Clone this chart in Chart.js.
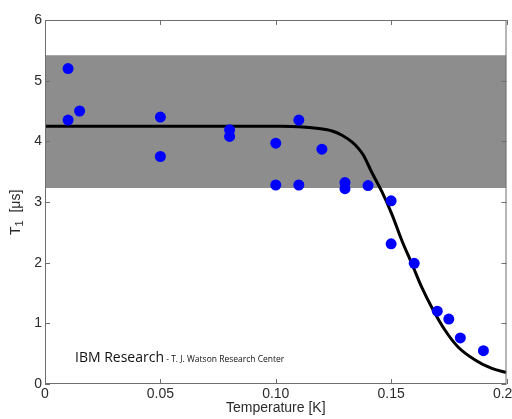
<!DOCTYPE html>
<html>
<head>
<meta charset="utf-8">
<script src="https://cdn.jsdelivr.net/npm/chart.js@4/dist/chart.umd.min.js"></script>
<style>
  html, body { margin: 0; padding: 0; background: #fff; }
  #wrap { width: 512px; height: 419px; }
</style>
</head>
<body>
<div id="wrap"><canvas id="t1-chart" width="512" height="419"></canvas></div>
<script>
// ── Data ─────────────────────────────────────────────────────
const measTemp = [0.010, 0.010, 0.015, 0.050, 0.050, 0.080, 0.080, 0.100, 0.100, 0.110,
                  0.110, 0.120, 0.130, 0.130, 0.140, 0.150, 0.150, 0.160, 0.170, 0.175,
                  0.180, 0.190];
const measT1   = [5.20, 4.35, 4.50, 4.40, 3.75, 4.19, 4.08, 3.97, 3.28, 4.35,
                  3.28, 3.87, 3.32, 3.22, 3.27, 3.02, 2.31, 1.99, 1.20, 1.07,
                  0.76, 0.55];

const fitTemp = [0, 0.05, 0.09, 0.100, 0.110, 0.1186, 0.1244, 0.1287, 0.1330, 0.1359,
                 0.1380, 0.1416, 0.146, 0.1503, 0.1546, 0.1589, 0.1632, 0.1682, 0.1733, 0.179,
                 0.1862, 0.1934, 0.2];
const fitT1   = [4.25, 4.25, 4.25, 4.248, 4.24, 4.21, 4.17, 4.10, 3.99, 3.88,
                 3.77, 3.49, 3.17, 2.80, 2.37, 1.99, 1.60, 1.22, 0.89, 0.61,
                 0.40, 0.26, 0.19];

const bandTemp = [0, 0.2];
const bandLow  = 3.23;
const bandHigh = 5.42;

const xTicks = [0, 0.05, 0.1, 0.15, 0.2];
const yTicks = [0, 1, 2, 3, 4, 5, 6];

const FRAME = '#6e6e6e';
const TEXT = '#2b2b2b';
const FONT = '"Liberation Sans", Arial, sans-serif';

// ── Frame, inward tick marks, y title and watermark ──────────
const framePlugin = {
    id: 'frame',
    afterDraw(chart) {
        const { ctx, chartArea: a, scales } = chart;
        const len = 5;
        ctx.save();
        ctx.strokeStyle = FRAME;
        ctx.lineWidth = 1;
        ctx.strokeRect(a.left + 0.5, a.top + 0.5, a.right - a.left - 1, a.bottom - a.top - 1);
        ctx.beginPath();
        xTicks.forEach(v => {
            const px = Math.round(scales.x.getPixelForValue(v)) + 0.5;
            ctx.moveTo(px, a.bottom); ctx.lineTo(px, a.bottom - len);
            ctx.moveTo(px, a.top); ctx.lineTo(px, a.top + len);
        });
        yTicks.forEach(v => {
            const py = Math.round(scales.y.getPixelForValue(v)) + 0.5;
            ctx.moveTo(a.left, py); ctx.lineTo(a.left + len, py);
            ctx.moveTo(a.right, py); ctx.lineTo(a.right - len, py);
        });
        ctx.stroke();

        // y title: T with subscript 1
        ctx.fillStyle = TEXT;
        ctx.textBaseline = 'alphabetic';
        ctx.translate(20, 235);
        ctx.rotate(-Math.PI / 2);
        ctx.font = '14px ' + FONT;
        ctx.fillText('T', 0, 0);
        let w = ctx.measureText('T').width;
        ctx.font = '11px ' + FONT;
        ctx.fillText('1', w, 3);
        w += ctx.measureText('1').width;
        ctx.font = '14px ' + FONT;
        ctx.fillText('  [μs]', w, 0);
        ctx.setTransform(1, 0, 0, 1, 0, 0);

        // watermark
        ctx.fillStyle = '#111';
        ctx.font = '14px "Open Sans"';
        ctx.fillText('IBM Research', 75, 362);
        const iw = ctx.measureText('IBM Research').width;
        ctx.font = '8.5px "Open Sans"';
        ctx.fillText(' - T. J. Watson Research Center', 75 + iw, 362);
        ctx.restore();
    },
};

new Chart(document.getElementById('t1-chart'), {
    type: 'scatter',
    data: {
        datasets: [
            {
                label: 'measured',
                data: measTemp.map((t, i) => ({ x: t, y: measT1[i] })),
                backgroundColor: '#0000ff',
                borderWidth: 0,
                pointRadius: 5.5,
                order: 1,
            },
            {
                label: 'fit',
                type: 'line',
                data: fitTemp.map((t, i) => ({ x: t, y: fitT1[i] })),
                borderColor: '#000',
                borderWidth: 3,
                pointRadius: 0,
                cubicInterpolationMode: 'monotone',
                fill: false,
                order: 2,
            },
            {
                label: 'band',
                type: 'line',
                data: bandTemp.map(t => ({ x: t, y: bandHigh })),
                borderWidth: 0,
                pointRadius: 0,
                backgroundColor: '#8d8d8d',
                fill: { value: bandLow },
                order: 3,
            },
        ],
    },
    options: {
        responsive: false,
        animation: false,
        devicePixelRatio: 1,
        layout: { padding: { top: 20, right: 3.5, left: 0, bottom: 0 } },
        scales: {
            x: {
                type: 'linear',
                min: 0,
                max: 0.2,
                afterBuildTicks: s => { s.ticks = xTicks.map(v => ({ value: v })); },
                afterFit: s => { s.height = 35; s.paddingLeft = 0; s.paddingRight = 0; },
                grid: { display: false, drawTicks: false },
                border: { display: false },
                ticks: {
                    color: TEXT,
                    padding: 2,
                    maxRotation: 0,
                    font: { family: FONT, size: 14 },
                },
                title: {
                    display: true,
                    text: 'Temperature [K]',
                    color: TEXT,
                    padding: { top: 0, bottom: 2 },
                    font: { family: FONT, size: 14 },
                },
            },
            y: {
                min: 0,
                max: 6,
                afterBuildTicks: s => { s.ticks = yTicks.map(v => ({ value: v })); },
                afterFit: s => { s.width = 45; s.paddingTop = 0; s.paddingBottom = 0; },
                grid: { display: false, drawTicks: false },
                border: { display: false },
                ticks: {
                    color: TEXT,
                    padding: 3,
                    font: { family: FONT, size: 14 },
                },
                title: { display: false },
            },
        },
        plugins: {
            legend: { display: false },
            tooltip: { enabled: false },
        },
    },
    plugins: [framePlugin],
});
</script>
</body>
</html>
